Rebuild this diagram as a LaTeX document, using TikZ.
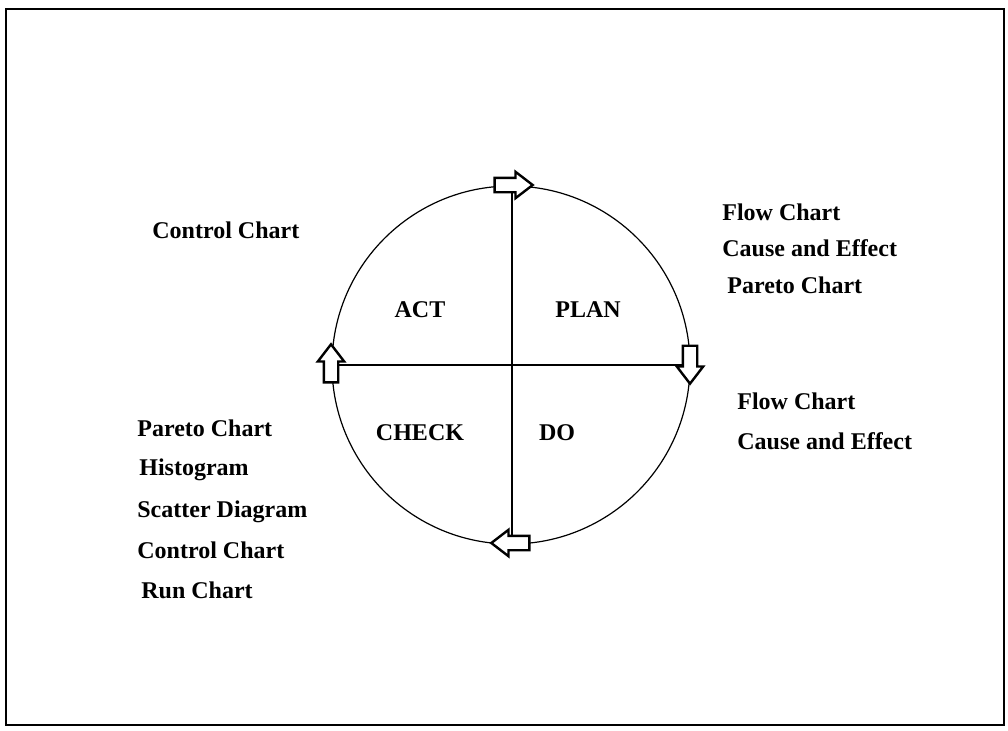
\documentclass[tikz,border=0pt]{standalone}
\usepackage{fontspec}
\setmainfont{Liberation Serif}
\usetikzlibrary{shapes.arrows,backgrounds}
\begin{document}
\begin{tikzpicture}[x=0.5pt,y=-0.5pt,
  lbl/.style={font=\bfseries\fontsize{12}{14}\selectfont, inner sep=0pt, anchor=west},
  qlbl/.style={font=\bfseries\fontsize{12}{14}\selectfont, inner sep=0pt},
  blk/.style={single arrow, draw=black, fill=white, line width=1.2pt, inner xsep=0pt, inner ysep=3pt,
    minimum height=19pt, minimum width=0pt, single arrow head extend=3pt,
    single arrow tip angle=75, single arrow head indent=0pt},
  ln/.style={line width=0.6pt}]
\useasboundingbox (0,0) rectangle (1008,730);
\draw[line width=1.2pt] (6,9) rectangle (1004,725);
\coordinate (c) at (511,365);
\draw[ln] (c) circle[radius=179*0.5pt];
\node[blk] (top) at (509,185) {};
\node[blk, rotate=-90] (right) at (690,360) {};
\node[blk, rotate=90] (left) at (331,368) {};
\node[blk, rotate=180] (bot) at (515,543) {};
\begin{scope}[on background layer]
\draw[ln] (top.center -| c) ++(1,0) coordinate (vt) -- (vt |- bot.center);
\draw[ln] (left.center |- c) -- (right.center |- c);
\end{scope}
\node[qlbl] (act) at (420,310) {ACT};
\node[qlbl] (plan) at (588,310) {PLAN};
\node[qlbl] (check) at (420,433) {CHECK};
\node[qlbl] (do) at (557,433) {DO};
\node[lbl] (cc1) at (152,230) {Control Chart};
\node[lbl] (fc1) at (722,212) {Flow Chart};
\node[lbl] (ce1) at (722,248) {Cause and Effect};
\node[lbl] (pc1) at (727,285) {Pareto Chart};
\node[lbl] (fc2) at (737,401) {Flow Chart};
\node[lbl] (ce2) at (737,441) {Cause and Effect};
\node[lbl] (pc2) at (137,428) {Pareto Chart};
\node[lbl] (hi) at (139,470) {Histogram};
\node[lbl] (sd) at (137,512) {Scatter Diagram};
\node[lbl] (cc2) at (137,550) {Control Chart};
\node[lbl] (rc) at (141,590) {Run Chart};
\end{tikzpicture}
\end{document}
